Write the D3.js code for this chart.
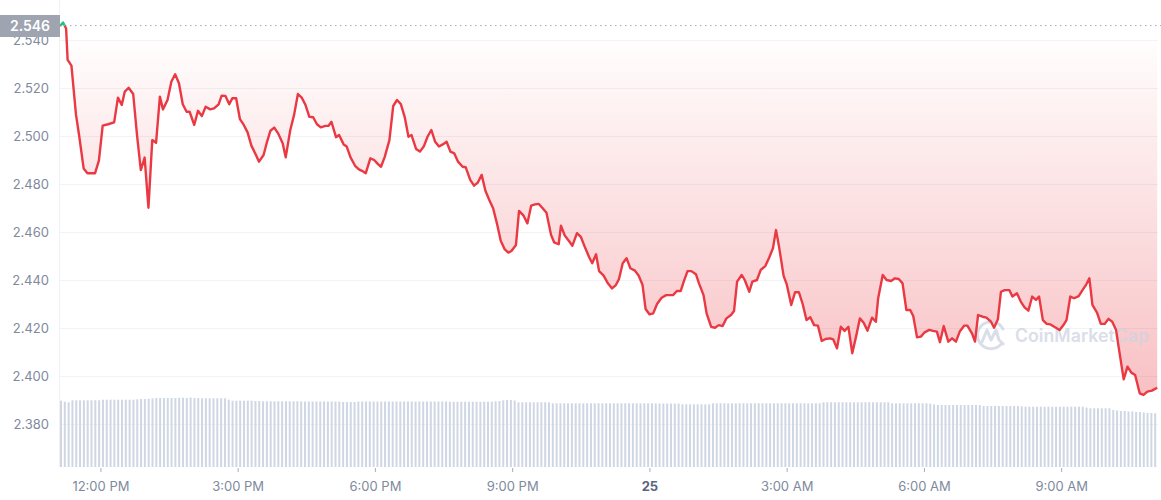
<!DOCTYPE html>
<html>
<head>
<meta charset="utf-8">
<script src="https://d3js.org/d3.v7.min.js"></script>
<style>
    body { margin: 0; background: #fff; }
    svg { display: block; font-family: Inter, "Noto Sans", sans-serif; }
</style>
</head>
<body>
<script>
//keep everything in a local scope
(function(){

    //chart start time (5 minute steps over 24 hours)
    var startTime = new Date(2023, 0, 24, 11, 7);
    var openPrice = 2.546;

    //price vertices: [minutes after start, price]
    var pricePoints = [
        [0,2.5458],[4,2.5473],[8,2.5448],[10,2.5317],[15,2.5293],[21,2.5088],[25,2.5004],[31,2.4865],
        [36,2.4845],[46,2.4845],[51,2.4897],[56,2.5043],[63,2.5049],[71,2.5057],[76,2.5160],[81,2.5129],
        [85,2.5185],[90,2.5201],[96,2.5175],[101,2.5004],[106,2.4858],[111,2.4910],[116,2.4701],[121,2.4983],
        [126,2.4972],[131,2.5164],[135,2.5111],[141,2.5150],[146,2.5226],[151,2.5257],[156,2.5220],[161,2.5132],
        [166,2.5101],[170,2.5101],[176,2.5046],[181,2.5105],[186,2.5083],[191,2.5122],[197,2.5111],[202,2.5115],
        [208,2.5132],[212,2.5168],[217,2.5167],[222,2.5132],[226,2.5157],[231,2.5157],[236,2.5070],[241,2.5046],
        [246,2.5015],[251,2.4960],[257,2.4921],[261,2.4893],[267,2.4921],[271,2.4970],[276,2.5022],[281,2.5035],
        [286,2.5011],[292,2.4970],[296,2.4911],[302,2.5025],[307,2.5088],[312,2.5175],[317,2.5160],[322,2.5129],
        [327,2.5080],[332,2.5078],[337,2.5049],[342,2.5036],[348,2.5042],[352,2.5042],[356,2.5059],[362,2.4995],
        [366,2.5004],[372,2.4965],[376,2.4956],[381,2.4911],[387,2.4876],[392,2.4861],[396,2.4855],[401,2.4845],
        [407,2.4907],[412,2.4900],[417,2.4883],[421,2.4872],[426,2.4914],[432,2.4983],[437,2.5125],[442,2.5150],
        [447,2.5133],[452,2.5080],[457,2.4997],[461,2.5004],[467,2.4946],[472,2.4935],[477,2.4956],[482,2.4997],
        [487,2.5025],[492,2.4976],[497,2.4956],[502,2.4965],[507,2.4976],[512,2.4935],[517,2.4928],[522,2.4893],
        [528,2.4872],[532,2.4870],[538,2.4817],[543,2.4793],[548,2.4806],[553,2.4838],[558,2.4771],[563,2.4733],
        [568,2.4699],[573,2.4636],[578,2.4564],[583,2.4529],[588,2.4514],[592,2.4521],[598,2.4546],[602,2.4688],
        [608,2.4668],[613,2.4636],[618,2.4710],[623,2.4715],[628,2.4717],[633,2.4699],[638,2.4680],[644,2.4588],
        [648,2.4557],[654,2.4549],[657,2.4626],[662,2.4585],[668,2.4560],[672,2.4543],[678,2.4595],[683,2.4580],
        [689,2.4532],[694,2.4495],[698,2.4470],[703,2.4507],[707,2.4437],[713,2.4418],[718,2.4389],[724,2.4365],
        [729,2.4379],[733,2.4403],[738,2.4470],[743,2.4491],[748,2.4449],[754,2.4439],[759,2.4418],[764,2.4379],
        [768,2.4279],[773,2.4257],[778,2.4261],[783,2.4300],[789,2.4326],[795,2.4337],[801,2.4337],[804,2.4337],
        [809,2.4354],[814,2.4354],[818,2.4393],[823,2.4437],[828,2.4437],[834,2.4424],[838,2.4386],[844,2.4337],
        [848,2.4261],[854,2.4205],[859,2.4201],[864,2.4212],[869,2.4208],[874,2.4240],[880,2.4254],[884,2.4271],
        [888,2.4393],[894,2.4421],[898,2.4400],[904,2.4351],[908,2.4393],[914,2.4400],[919,2.4442],[925,2.4458],
        [930,2.4493],[935,2.4532],[939,2.4608],[943,2.4539],[949,2.4417],[953,2.4383],[959,2.4296],[964,2.4349],
        [969,2.4349],[974,2.4300],[979,2.4233],[984,2.4245],[989,2.4212],[994,2.4210],[999,2.4146],[1004,2.4154],
        [1010,2.4157],[1014,2.4153],[1019,2.4115],[1024,2.4205],[1029,2.4188],[1034,2.4205],[1039,2.4095],[1044,2.4164],
        [1049,2.4240],[1054,2.4222],[1059,2.4189],[1065,2.4243],[1070,2.4226],[1073,2.4324],[1079,2.4421],[1084,2.4400],
        [1090,2.4396],[1095,2.4407],[1100,2.4404],[1105,2.4386],[1110,2.4275],[1115,2.4275],[1119,2.4250],[1124,2.4161],
        [1129,2.4164],[1134,2.4182],[1140,2.4192],[1145,2.4188],[1150,2.4185],[1154,2.4141],[1159,2.4208],[1165,2.4143],
        [1170,2.4157],[1175,2.4143],[1180,2.4185],[1186,2.4210],[1190,2.4210],[1196,2.4178],[1200,2.4143],[1204,2.4254],
        [1210,2.4247],[1215,2.4243],[1221,2.4226],[1225,2.4201],[1230,2.4236],[1234,2.4351],[1239,2.4358],[1245,2.4358],
        [1249,2.4331],[1255,2.4345],[1260,2.4310],[1265,2.4286],[1270,2.4272],[1275,2.4331],[1280,2.4317],[1284,2.4331],
        [1289,2.4233],[1294,2.4217],[1299,2.4215],[1305,2.4203],[1311,2.4192],[1316,2.4212],[1320,2.4233],[1325,2.4331],
        [1330,2.4324],[1336,2.4333],[1341,2.4358],[1346,2.4382],[1350,2.4407],[1354,2.4296],[1360,2.4264],[1365,2.4217],
        [1370,2.4217],[1375,2.4238],[1380,2.4226],[1385,2.4192],[1389,2.4108],[1395,2.3986],[1400,2.4039],[1405,2.4014],
        [1410,2.4004],[1416,2.3928],[1421,2.3921],[1426,2.3935],[1432,2.3939],[1439,2.3951]
    ];

    //volume bars, one per 5 minutes (relative units, 12 per row = 1 hour)
    var volumes = [
        66.3,65.3,64.7,66.7,66.7,66.7,66.7,66.7,66.7,66.7,66.7,67.3,
        67.3,67.3,67.3,67.3,67.3,67.3,67.3,67.3,67.7,68,68,68.3,
        68.7,69,69,69,69,69,69,69.3,69.3,69,69.5,69,
        69,68.7,68.7,68.7,68.7,68.7,68.7,68.7,67.3,66.3,66.3,66.3,
        66.3,66.3,66.3,66,66,65.7,65.7,65.7,65.7,65.7,65.7,65.7,
        65.7,65.7,65.7,65.7,65.5,65.5,65.5,65.5,65.5,65.5,65.5,65.5,
        65.5,65.5,65,65,65,65,65.5,65.5,65.5,65.5,65.5,65.5,
        65.5,65.5,65.5,65.5,65.5,65.5,65.5,65.5,65.5,65.5,65.5,65.5,
        65.5,65.5,65.5,65.5,65.5,65.5,65.3,65.3,65.3,65.3,65.3,65.3,
        65.3,65.3,65.3,65.3,65.3,65.3,65.7,66,66.7,67,67,66.5,
        64.7,64.7,64.7,64.7,64.7,64.7,64.7,64.7,64.7,63.7,63.7,63.7,
        63.7,63.7,63.7,63.7,63.7,63.7,63.7,63.7,63.7,63.7,63.7,63.7,
        63.7,63.7,63.7,63.7,63.7,63.7,63.7,63.7,63.7,63.7,63.7,63.7,
        63.5,63.5,63.5,63.5,63.5,63.5,63.5,62.7,62.7,62.7,62.7,62.7,
        62.7,62.7,62.7,63.7,63.7,63.7,63.7,63.7,63.7,63.7,63.7,63.7,
        63.7,63.7,63.7,63.7,63.7,63.7,63.7,63.7,63.7,63.7,63.7,63.7,
        63.7,63.7,63.7,63.7,63.7,63.7,63.7,63.7,64.7,64.7,64.7,64.7,
        64.7,64.7,64.7,64.7,64.7,64.7,64.7,64.7,64.7,64.7,64.7,64.7,
        64.7,64.7,63.7,63.7,63.7,63.7,63.7,63.7,63.7,63.7,63.7,63.7,
        63.3,62.5,62,62,62,62,62,62,62,62,62,62,
        62,62,61,61,61,61,61,61,61,61,61,61,
        60.7,60.3,60.3,60.3,60.3,60.3,60.3,60.3,60.3,60.3,60.3,60.3,
        60.3,60.3,60.3,60.3,60.3,59.5,58.7,58.7,58.7,58.7,58.7,58.7,
        57,56.5,56,56,55.5,55.5,55,55,54.5,54,54,53.7
    ];

    //price axis tick values
    var yTicks = [2.38, 2.40, 2.42, 2.44, 2.46, 2.48, 2.50, 2.52, 2.54];

    //frame
    var width = 1161, height = 500,
        left = 60, right = 1158;

    var svg = d3.select("body")
        .append("svg")
        .attr("width", width)
        .attr("height", height);

    var endTime = d3.timeMinute.offset(startTime, 1440);

    var x = d3.scaleTime()
        .domain([startTime, endTime])
        .range([left, right]);

    var y = d3.scaleLinear()
        .domain([2.38, 2.54])
        .range([424, 40]);

    var yVol = d3.scaleLinear()
        .domain([0, 100])
        .range([467, 367]);

    var priceData = pricePoints.map(function(d){
        return { t: d3.timeMinute.offset(startTime, d[0]), v: d[1] };
    });

    //gradient for area under the baseline
    var defs = svg.append("defs");
    var grad = defs.append("linearGradient")
        .attr("id", "fillGrad")
        .attr("gradientUnits", "userSpaceOnUse")
        .attr("x1", 0).attr("x2", 0)
        .attr("y1", 41).attr("y2", 400);
    grad.append("stop").attr("offset", "0%").attr("stop-color", "#ea3943").attr("stop-opacity", 0.01);
    grad.append("stop").attr("offset", "100%").attr("stop-color", "#ea3943").attr("stop-opacity", 0.32);

    var yBase = y(openPrice);

    defs.append("clipPath").attr("id", "belowBase")
        .append("rect").attr("x", 0).attr("y", yBase).attr("width", width).attr("height", height);
    defs.append("clipPath").attr("id", "aboveBase")
        .append("rect").attr("x", 0).attr("y", 0).attr("width", width).attr("height", yBase);
    defs.append("clipPath").attr("id", "areaClip")
        .append("rect").attr("x", left).attr("y", 41).attr("width", right - left).attr("height", 430);

    //horizontal grid
    svg.append("g")
        .selectAll("line")
        .data(yTicks)
        .enter()
        .append("line")
        .attr("x1", left)
        .attr("x2", right)
        .attr("y1", function(d){ return Math.round(y(d)) + 0.5; })
        .attr("y2", function(d){ return Math.round(y(d)) + 0.5; })
        .attr("stroke", "#f1f3f6")
        .attr("stroke-width", 1);

    //left edge line
    svg.append("line")
        .attr("x1", left - 0.5).attr("x2", left - 0.5)
        .attr("y1", 0).attr("y2", 467)
        .attr("stroke", "#eff2f5");

    //volume bars
    svg.append("g")
        .selectAll("rect")
        .data(volumes)
        .enter()
        .append("rect")
        .attr("x", function(d, i){ return x(d3.timeMinute.offset(startTime, i * 5)); })
        .attr("y", function(d){ return yVol(d); })
        .attr("width", 2)
        .attr("height", function(d){ return yVol(0) - yVol(d); })
        .attr("fill", "#cfd6e4");

    //area between line and top
    var area = d3.area()
        .x(function(d){ return x(d.t); })
        .y0(41)
        .y1(function(d){ return y(d.v); });

    svg.append("path")
        .datum(priceData)
        .attr("d", area)
        .attr("fill", "url(#fillGrad)")
        .attr("clip-path", "url(#areaClip)");

    //watermark
    var wm = svg.append("g")
        .attr("transform", "translate(991,335)")
        .attr("opacity", 0.75);
    wm.append("path")
        .attr("d", "M11,8 A13.5,13.5 0 1 1 12,-6")
        .attr("fill", "none")
        .attr("stroke", "#cdd4e1")
        .attr("stroke-width", 3)
        .attr("stroke-linecap", "round");
    wm.append("path")
        .attr("d", "M-9,7 L-4,-5 L0,5 L5,-5 L8,5 L12,9")
        .attr("fill", "none")
        .attr("stroke", "#cdd4e1")
        .attr("stroke-width", 3)
        .attr("stroke-linejoin", "round")
        .attr("stroke-linecap", "round");
    svg.append("text")
        .attr("x", 1015)
        .attr("y", 342)
        .attr("font-size", 18)
        .attr("font-weight", 600)
        .attr("textLength", 134)
        .attr("lengthAdjust", "spacingAndGlyphs")
        .attr("fill", "#cdd4e1")
        .attr("opacity", 0.75)
        .text("CoinMarketCap");

    //dotted open price line
    svg.append("line")
        .attr("x1", left)
        .attr("x2", width)
        .attr("y1", yBase)
        .attr("y2", yBase)
        .attr("stroke", "#a0a6b2")
        .attr("stroke-width", 1)
        .attr("stroke-dasharray", "1.5,3.5");

    //price line (green above open price, red below)
    var line = d3.line()
        .x(function(d){ return x(d.t); })
        .y(function(d){ return y(d.v); });

    svg.append("path")
        .datum(priceData)
        .attr("d", line)
        .attr("fill", "none")
        .attr("stroke", "#ea3943")
        .attr("stroke-width", 2.4)
        .attr("stroke-linejoin", "round")
        .attr("clip-path", "url(#belowBase)");

    svg.append("path")
        .datum(priceData)
        .attr("d", line)
        .attr("fill", "none")
        .attr("stroke", "#16c784")
        .attr("stroke-width", 2.4)
        .attr("stroke-linejoin", "round")
        .attr("clip-path", "url(#aboveBase)");

    //y axis labels
    var yAxis = svg.append("g")
        .attr("transform", "translate(" + left + ",0)")
        .call(d3.axisLeft(y).tickValues(yTicks).tickFormat(d3.format(".3f")).tickSize(0).tickPadding(11));
    yAxis.select(".domain").remove();
    yAxis.selectAll("text")
        .attr("font-family", "Inter, sans-serif")
        .attr("font-size", 13)
        .attr("fill", "#808a9d");

    //time axis
    var fmtHour = d3.timeFormat("%-I:%M %p");
    var xAxis = svg.append("g")
        .attr("transform", "translate(0,468)")
        .call(d3.axisBottom(x)
            .ticks(d3.timeHour.every(3))
            .tickSize(4)
            .tickPadding(10)
            .tickFormat(function(d){
                return d.getHours() === 0 ? d3.timeFormat("%-d")(d) : fmtHour(d);
            }));
    xAxis.select(".domain").remove();
    xAxis.selectAll("line").attr("stroke", "#a6adbb");
    xAxis.selectAll("text")
        .attr("font-family", "Inter, sans-serif")
        .attr("font-size", 13)
        .attr("font-weight", function(d){ return d.getHours() === 0 ? 700 : 400; })
        .attr("fill", function(d){ return d.getHours() === 0 ? "#58667e" : "#808a9d"; });

    //open price label
    svg.append("rect")
        .attr("x", 0)
        .attr("y", 15)
        .attr("width", left)
        .attr("height", 22)
        .attr("fill", "#9ea4b0");
    svg.append("text")
        .attr("x", 30)
        .attr("y", 26)
        .attr("dy", "0.35em")
        .attr("text-anchor", "middle")
        .attr("font-size", 14)
        .attr("font-weight", 600)
        .attr("fill", "#fff")
        .text(d3.format(".3f")(openPrice));

})();
</script>
</body>
</html>
